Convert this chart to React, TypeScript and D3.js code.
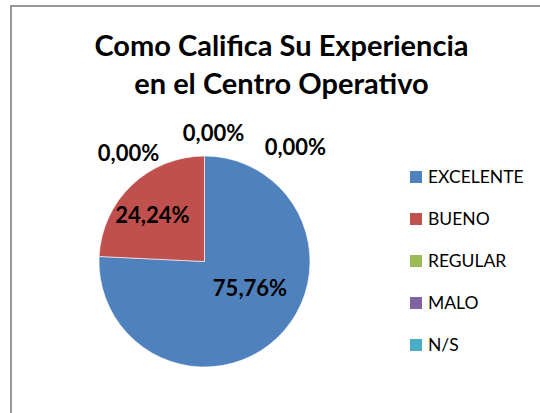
import React from "react";
import * as d3 from "d3";

const categories = ["EXCELENTE", "BUENO", "REGULAR", "MALO", "N/S"];
const counts = [25, 8, 0, 0, 0];
const colors = ["#4F81BD", "#C0504D", "#9BBB59", "#8064A2", "#4BACC6"];
const titleLines = ["Como Califica Su Experiencia", "en el Centro Operativo"];
// label placement: angle offset (deg) from the slice's mid angle, and distance from centre
const labelAngleOffset = [-16, -5, -35, 4, 38.5];
const labelDist = [52.7, 69.5, 132.5, 128.7, 146];

const W = 540;
const H = 413;
const cx = 204.5;
const cy = 261.5;
const R = 105.5;

export default function App() {
  const total = d3.sum(counts);
  const pie = d3
    .pie<number>()
    .sort(null)
    .value((d) => d)
    .startAngle(0)
    .endAngle(2 * Math.PI);
  const arcs = pie(counts);
  const arc = d3.arc<d3.PieArcDatum<number>>().innerRadius(0).outerRadius(R);
  const fmt = (v: number) =>
    d3.format(".2f")((v / total) * 100).replace(".", ",") + "%";

  const legendY = d3
    .scalePoint<string>()
    .domain(categories)
    .range([177, 345]);

  return (
    <svg
      width={W}
      height={H}
      style={{ position: "absolute", left: 0, top: 0, background: "#fff" }}
      fontFamily="Lato, Carlito, Calibri, sans-serif"
    >
      <rect x={11} y={6} width={W + 20} height={H + 20} fill="#fff" stroke="#979797" strokeWidth={2} />
      {titleLines.map((t, i) => (
        <text
          key={i}
          x={281.5}
          y={56 + i * 38}
          textAnchor="middle"
          fontSize={29}
          fontWeight="bold"
          fill="#000"
        >
          {t}
        </text>
      ))}
      <g transform={`translate(${cx},${cy})`}>
        {arcs.map((a, i) =>
          a.value > 0 ? (
            <path key={i} d={arc(a) || ""} fill={colors[i]} stroke="#fff" strokeWidth={0.6} />
          ) : null
        )}
        {arcs.map((a, i) => {
          const mid = (a.startAngle + a.endAngle) / 2;
          const ang = mid + (labelAngleOffset[i] * Math.PI) / 180;
          const x = Math.sin(ang) * labelDist[i];
          const y = -Math.cos(ang) * labelDist[i];
          return (
            <text
              key={i}
              x={x}
              y={y}
              dy="0.35em"
              textAnchor="middle"
              fontSize={22}
              fontWeight="bold"
              fill="#000"
            >
              {fmt(a.value)}
            </text>
          );
        })}
      </g>
      <g>
        {categories.map((c, i) => (
          <g key={c} transform={`translate(410,${legendY(c)})`}>
            <rect x={0} y={-6} width={12} height={12} fill={colors[i]} />
            <text x={18} y={0} dy="0.35em" fontSize={17.5} fill="#000">
              {c}
            </text>
          </g>
        ))}
      </g>
    </svg>
  );
}
